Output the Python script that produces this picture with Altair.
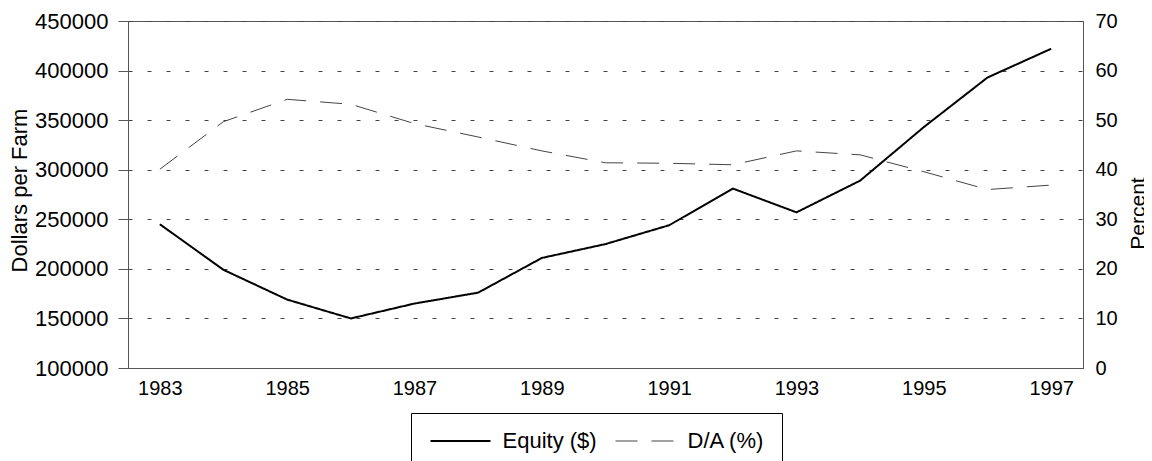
import altair as alt
import pandas as pd

# ---- data ----
years = list(range(1983, 1998))
equity = [245000, 199000, 169000, 150000, 165000, 176000, 211000, 225000,
          244000, 281000, 257000, 289000, 343000, 393000, 422000]
da_pct = [40.1, 49.7, 54.2, 53.2, 49.3, 46.6, 43.8, 41.4,
          41.3, 41.0, 43.8, 43.0, 39.6, 36.0, 36.9]
series_names = ["Equity ($)", "D/A (%)"]
x_label_years = [1983, 1985, 1987, 1989, 1991, 1993, 1995, 1997]
left_ticks = [100000, 150000, 200000, 250000, 300000, 350000, 400000, 450000]
right_ticks = [0, 10, 20, 30, 40, 50, 60, 70]

rows = []
for yr, e, d in zip(years, equity, da_pct):
    rows.append({"year": yr, "series": series_names[0], "value": e})
    rows.append({"year": yr, "series": series_names[1], "value": d})
df = pd.DataFrame(rows)

FONT = "Liberation Sans"
AX = "#555555"

# wide, flat legend symbol: path spans [-4,4] x 0, scaled by sqrt(size)/2
legend = alt.Legend(
    title=None, orient="none", legendX=283, legendY=392,
    direction="horizontal", symbolType="M-4,0H4", symbolSize=225,
    symbolOffset=21.5,
    labelFontSize=22, labelFont=FONT, labelColor="black", labelOffset=31,
    columnPadding=16, padding=17, strokeColor="black", fillColor="white",
    labelLimit=0,
)

x_enc = alt.X(
    "year:O", title=None,
    scale=alt.Scale(type="point", padding=0.5),
    axis=alt.Axis(values=x_label_years, labelAngle=0, ticks=False,
                  labelPadding=10, labelFontSize=20, labelFont=FONT,
                  labelColor="black", domainColor=AX, grid=False),
)
stroke_enc = alt.Stroke(
    "series:N",
    scale=alt.Scale(domain=series_names, range=["#000000", "#444444"]),
    legend=legend,
)
dash_enc = alt.StrokeDash(
    "series:N",
    scale=alt.Scale(domain=series_names, range=[[1, 0], [22, 14]]),
    legend=legend,
)
width_enc = alt.StrokeWidth(
    "series:N",
    scale=alt.Scale(domain=series_names, range=[2, 1]),
    legend=legend,
)

base = alt.Chart(df)

left = base.transform_filter(alt.datum.series == series_names[0]).mark_line().encode(
    x=x_enc,
    y=alt.Y("value:Q",
            scale=alt.Scale(domain=[100000, 450000], nice=False, zero=False),
            axis=alt.Axis(values=left_ticks, format="d", orient="left",
                          tickSize=10, tickColor=AX, labelPadding=10,
                          labelFontSize=22, labelFont=FONT, labelColor="black",
                          domainColor=AX,
                          title="Dollars per Farm", titleFont=FONT,
                          titleFontSize=22, titleFontWeight="normal",
                          titleColor="black", titleAngle=270,
                          titleBaseline="top", titleAlign="center",
                          titleX=-119, titleY=169,
                          grid=True, gridDash=[4, 15], gridColor="#444444",
                          gridWidth=1)),
    stroke=stroke_enc, strokeDash=dash_enc, strokeWidth=width_enc,
)

right = base.transform_filter(alt.datum.series == series_names[1]).mark_line().encode(
    x=x_enc,
    y=alt.Y("value:Q",
            scale=alt.Scale(domain=[0, 70], nice=False),
            axis=alt.Axis(values=right_ticks, orient="right", ticks=False,
                          labelPadding=12, labelFontSize=20, labelFont=FONT,
                          labelColor="black", domainColor=AX,
                          title="Percent", titleFont=FONT, titleFontSize=21,
                          titleFontWeight="normal", titleColor="black",
                          titleAngle=270, titleBaseline="top",
                          titleAlign="center", titleX=44, titleY=192,
                          grid=False)),
    stroke=stroke_enc, strokeDash=dash_enc, strokeWidth=width_enc,
)

chart = alt.layer(left, right).resolve_scale(y="independent").properties(
    width=955, height=347,
    autosize=alt.AutoSizeParams(type="none"),
    padding={"left": 120, "top": 13, "right": 61, "bottom": 100},
    background="white",
).configure_view(stroke=AX, strokeWidth=1)

chart.save("out.html", embed_options={"renderer": "svg", "actions": False})
